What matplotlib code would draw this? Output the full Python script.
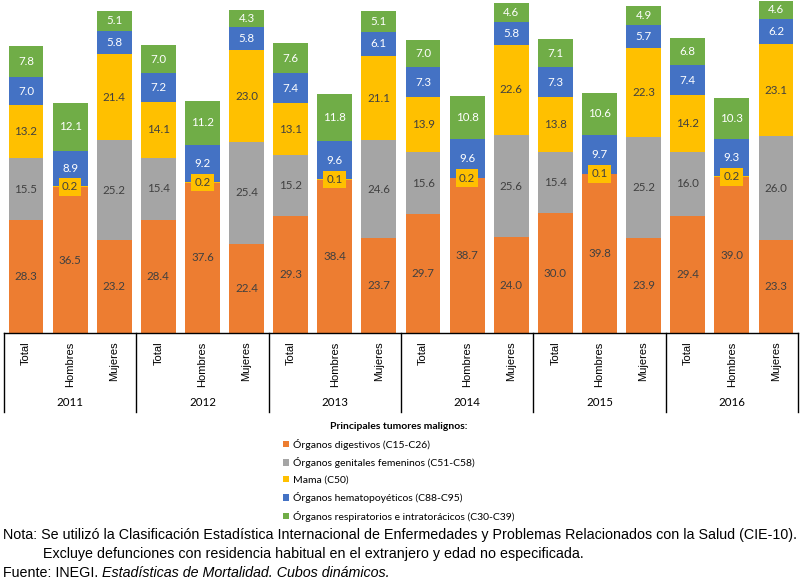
import matplotlib
matplotlib.use("Agg")
import matplotlib.pyplot as plt
import matplotlib.transforms as mtransforms
import numpy as np

years = ["2011", "2012", "2013", "2014", "2015", "2016"]
sexes = ["Total", "Hombres", "Mujeres"]

digestivos = [28.3, 36.5, 23.2, 28.4, 37.6, 22.4, 29.3, 38.4, 23.7,
              29.7, 38.7, 24.0, 30.0, 39.8, 23.9, 29.4, 39.0, 23.3]
genitales = [15.5, 0, 25.2, 15.4, 0, 25.4, 15.2, 0, 24.6,
             15.6, 0, 25.6, 15.4, 0, 25.2, 16.0, 0, 26.0]
mama = [13.2, 0.2, 21.4, 14.1, 0.2, 23.0, 13.1, 0.1, 21.1,
        13.9, 0.2, 22.6, 13.8, 0.1, 22.3, 14.2, 0.2, 23.1]
hemato = [7.0, 8.9, 5.8, 7.2, 9.2, 5.8, 7.4, 9.6, 6.1,
          7.3, 9.6, 5.8, 7.3, 9.7, 5.7, 7.4, 9.3, 6.2]
respira = [7.8, 12.1, 5.1, 7.0, 11.2, 4.3, 7.6, 11.8, 5.1,
           7.0, 10.8, 4.6, 7.1, 10.6, 4.9, 6.8, 10.3, 4.6]

series_names = ["Órganos digestivos (C15-C26)",
                "Órganos genitales femeninos (C51-C58)",
                "Mama (C50)",
                "Órganos hematopoyéticos (C88-C95)",
                "Órganos respiratorios e intratorácicos (C30-C39)"]
colors = ["#ED7D31", "#A5A5A5", "#FFC000", "#4472C4", "#70AD47"]
text_colors = ["#404040", "#404040", "#404040", "white", "white"]

label_font = ["Lato", "DejaVu Sans"]
arial = ["Liberation Sans", "DejaVu Sans"]

fig = plt.figure(figsize=(8, 5.79), dpi=100)
ax = fig.add_axes([0.0049, 1 - 333 / 579, 0.9926, 333 / 579])

x = np.arange(len(digestivos))
bottom = np.zeros(len(x))
handles = []
for vals, col, tcol, name in zip([digestivos, genitales, mama, hemato, respira],
                                  colors, text_colors, series_names):
    vals = np.array(vals)
    b = ax.bar(x, vals, 0.79, bottom=bottom, color=col, label=name)
    handles.append(b)
    for xi, v, bt in zip(x, vals, bottom):
        if v <= 0:
            continue
        if v < 1:
            # small mama values for Hombres get a yellow box like in Excel
            ax.text(xi, bt + v / 2, f"{v:.1f}", ha="center", va="center",
                    fontsize=8.3, color=tcol, family=label_font,
                    bbox=dict(boxstyle="square,pad=0.28", fc=col, ec="none"))
        else:
            ax.text(xi, bt + v / 2, f"{v:.1f}", ha="center", va="center",
                    fontsize=8.3, color=tcol, family=label_font)
    bottom += vals

ax.set_xlim(-0.5, len(x) - 0.5)
ax.set_ylim(0, 83.4)
ax.set_yticks([])
for s in ["left", "right", "top"]:
    ax.spines[s].set_visible(False)
ax.spines["bottom"].set_color("black")
ax.spines["bottom"].set_linewidth(1)

ax.set_xticks(x)
ax.set_xticklabels(sexes * len(years), rotation=90, fontsize=8, family=arial)
ax.tick_params(axis="x", length=0, pad=6)

trans = mtransforms.blended_transform_factory(ax.transData, ax.transAxes)
sep_bottom = -(412 - 333) / 333
for k in range(len(years) + 1):
    ax.plot([3 * k - 0.5, 3 * k - 0.5], [0, sep_bottom], color="black",
            lw=1, transform=trans, clip_on=False)
for k, yr in enumerate(years):
    ax.text(3 * k + 1, -(403 - 333) / 333, yr, transform=trans, ha="center",
            va="center", fontsize=8.3, family=label_font)

leg = fig.legend(handles=handles, labels=series_names, loc="upper left",
                 bbox_to_anchor=(278 / 800, 1 - 417 / 579), frameon=False,
                 prop={"family": label_font, "size": 7.5},
                 handlelength=0.6, handleheight=0.6, handletextpad=0.35,
                 labelspacing=0.72, borderpad=0,
                 title="Principales tumores malignos:",
                 title_fontproperties={"family": label_font, "size": 7.5,
                                       "weight": "bold"})

fs = 10.3
fig.text(3 / 800, 1 - 539.5 / 579,
         "Nota: Se utilizó la Clasificación Estadística Internacional de "
         "Enfermedades y Problemas Relacionados con la Salud (CIE-10).",
         fontsize=fs, family=arial, va="baseline", ha="left")
fig.text(43 / 800, 1 - 558 / 579,
         "Excluye defunciones con residencia habitual en el extranjero y "
         "edad no especificada.",
         fontsize=fs, family=arial, va="baseline", ha="left")
t = fig.text(3 / 800, 1 - 577 / 579, "Fuente: INEGI. ", fontsize=fs,
             family=arial, va="baseline", ha="left")
fig.canvas.draw()
bb = t.get_window_extent()
fig.text(bb.x1 / fig.bbox.width, 1 - 577 / 579,
         "Estadísticas de Mortalidad. Cubos dinámicos.", fontsize=fs,
         family=arial, style="italic", va="baseline", ha="left")

fig.savefig("out.png", dpi=100)
